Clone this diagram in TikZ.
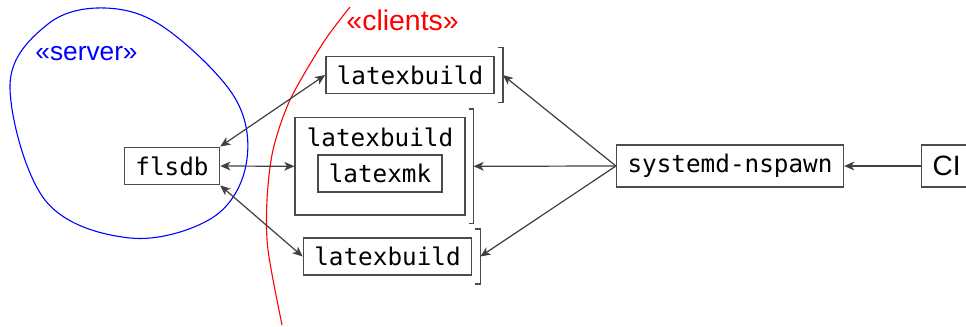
\documentclass[tikz,border=0pt]{standalone}
\usepackage{fontspec}
\setmainfont{Liberation Sans}
\newfontfamily\monofont{DejaVu Sans Mono}
\usetikzlibrary{arrows.meta,fit}

\begin{document}
\begin{tikzpicture}[x=0.4115pt,y=-0.4115pt,
    box/.style={draw=black!70, line width=0.6pt, font=\monofont\fontsize{10}{12}\selectfont,
                inner xsep=4.5pt, inner ysep=3.8pt},
    notebox/.style={box, draw=none},
    arr/.style={draw=black!75, line width=0.5pt, -{Stealth[length=4.2pt,width=3.6pt,inset=1.2pt]}},
    dblarr/.style={arr, {Stealth[length=4.2pt,width=3.6pt,inset=1.2pt]}-{Stealth[length=4.2pt,width=3.6pt,inset=1.2pt]}},
    inst/.style={draw=black!70, line width=0.6pt}]
    \useasboundingbox (0,0) rectangle (966,326);

    % server side
    \draw[blue, line width=0.45pt] plot[smooth cycle, tension=0.6] coordinates {
        (10,85) (48,24) (105,8) (165,28) (235,98) (246,165) (212,218) (130,238) (45,200)};
    \node[text=blue, font=\fontsize{10.8}{13}\selectfont, anchor=base west, inner sep=0pt] (server) at (35,60) {«server»};
    \node[box] (flsdb) at (172,166) {flsdb};

    % clients side
    \draw[red, line width=0.45pt] plot[smooth] coordinates {
        (350,7) (323,43) (290,100) (273,150) (267,200) (268,250) (282,325)};
    \node[text=red, font=\fontsize{11.7}{14}\selectfont, anchor=base west, inner sep=0pt] (clients) at (346,30) {«clients»};

    \node[box] (top) at (410,75) {latexbuild};
    \node[notebox] (midtitle) at (380,137) {latexbuild};
    \node[box] (mk) at (380,173.5) {latexmk};
    \coordinate (midbot) at (380,215);
    \node[box, fit=(midtitle)(mk)(midbot), inner sep=0pt] (mid) {};
    \node[box] (bot) at (387.5,256.5) {latexbuild};

    \foreach \n in {top,mid,bot}{
        \draw[inst] ([shift={(3,-8)}]\n.north east) -| ([shift={(8,8)}]\n.south east) -- ++(-5,0);
        \coordinate (\n r) at ([shift={(8,0)}]\n.east);
    }

    \node[box] (nspawn) at (730,166) {systemd-nspawn};
    \node[box, font=\fontsize{11.5}{14}\selectfont, anchor=west, minimum height=17.3pt,
          text width=15pt, align=left] (ci) at (921,166) {CI};

    \draw[dblarr] (flsdb.north east) -- (top.west);
    \draw[dblarr] (flsdb.east) -- (mid.west);
    \draw[dblarr] (flsdb.south east) -- (bot.west);
    \foreach \n in {top,mid,bot}
        \draw[arr] (nspawn.west) -- (\n r);
    \draw[arr] (ci.west) -- (nspawn);
\end{tikzpicture}
\end{document}
